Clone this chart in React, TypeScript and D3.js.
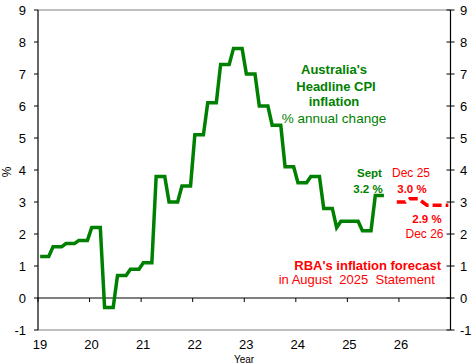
import React from "react";
import * as d3 from "d3";

const W = 476;
const H = 364;

// Monthly headline CPI (% annual change), Jan 2019 .. Sep 2025
const cpiStart = 2019;
const cpiValues: number[] = [
  1.3, 1.3, 1.3, 1.6, 1.6, 1.6, 1.7, 1.7, 1.7, 1.8, 1.8, 1.8,
  2.2, 2.2, 2.2, -0.3, -0.3, -0.3, 0.7, 0.7, 0.7, 0.9, 0.9, 0.9,
  1.1, 1.1, 1.1, 3.8, 3.8, 3.8, 3.0, 3.0, 3.0, 3.5, 3.5, 3.5,
  5.1, 5.1, 5.1, 6.1, 6.1, 6.1, 7.3, 7.3, 7.3, 7.8, 7.8, 7.8,
  7.0, 7.0, 7.0, 6.0, 6.0, 6.0, 5.4, 5.4, 5.4, 4.1, 4.1, 4.1,
  3.6, 3.6, 3.6, 3.8, 3.8, 3.8, 2.8, 2.8, 2.8, 2.2, 2.4, 2.4,
  2.4, 2.4, 2.4, 2.1, 2.1, 2.1, 3.2, 3.2, 3.2,
];

// RBA forecast (Aug 2025 SMP), monthly from Dec 2025 .. Dec 2026
const fcStartMonthIndex = 6 * 12 + 11; // months after Jan 2019
const fcValues: number[] = [3.0, 3.0, 3.0, 3.1, 3.1, 3.1, 3.0, 2.9, 2.9, 2.9, 2.9, 2.9, 2.9];

const yTicks = [-1, 0, 1, 2, 3, 4, 5, 6, 7, 8, 9];
const yearTicks = [2019, 2020, 2021, 2022, 2023, 2024, 2025, 2026];
const yearLabels = ["19", "20", "21", "22", "23", "24", "25", "26"];

const GREEN = "#008000";
const RED = "#ff0000";
const FONT = "'Liberation Sans', Arial, sans-serif";

export default function App() {
  const x = d3.scaleLinear().domain([2019, 2027]).range([38, 450.5]);
  const y = d3.scaleLinear().domain([-1, 9]).range([330, 10]);

  const monthX = (i: number) => cpiStart + (i + 0.5) / 12;

  const line = d3
    .line<number>()
    .x((_, i) => x(monthX(i)))
    .y((d) => y(d));

  const fcLine = d3
    .line<number>()
    .x((_, i) => x(monthX(fcStartMonthIndex + i)))
    .y((d) => y(d));

  const xL = x(2019);
  const xR = x(2027);
  const y0 = y(0);

  return (
    <svg
      width={W}
      height={H}
      style={{ position: "absolute", left: 0, top: 0, background: "#fff" }}
      fontFamily={FONT}
    >
      {/* frame */}
      <line x1={xL} x2={xR} y1={y(9)} y2={y(9)} stroke="#808080" strokeWidth={1} />
      <line x1={xL} x2={xR} y1={y(-1)} y2={y(-1)} stroke="#808080" strokeWidth={1} />
      <line x1={xL} x2={xL} y1={y(9)} y2={y(-1)} stroke="#000" strokeWidth={1.2} />
      <line x1={xR} x2={xR} y1={y(9)} y2={y(-1)} stroke="#000" strokeWidth={1.2} />
      {/* zero line */}
      <line x1={xL} x2={xR} y1={y0} y2={y0} stroke="#000" strokeWidth={1.2} />
      {yearTicks.map((t) => (
        <line key={"xt" + t} x1={x(t)} x2={x(t)} y1={y0} y2={y0 + 4} stroke="#000" strokeWidth={1} />
      ))}

      {/* axes ticks and labels */}
      {yTicks.map((t) => (
        <g key={"yl" + t}>
          <line x1={xL - 4} x2={xL} y1={y(t)} y2={y(t)} stroke="#000" strokeWidth={1} />
          <text x={26} y={y(t)} dy="0.35em" textAnchor="end" fontSize={13} fill="#000">
            {t}
          </text>
          <line x1={xR - 4} x2={xR + 4} y1={y(t)} y2={y(t)} stroke="#000" strokeWidth={1} />
          <text x={460} y={y(t)} dy="0.35em" textAnchor="start" fontSize={13} fill="#000">
            {t}
          </text>
        </g>
      ))}
      <text
        transform={`translate(11,172) rotate(-90)`}
        textAnchor="middle"
        fontSize={12}
        fill="#000"
      >
        %
      </text>

      {/* x labels */}
      {yearTicks.map((t, i) => (
        <text key={"xl" + t} x={x(t) + 2} y={349} textAnchor="middle" fontSize={13} fill="#000">
          {yearLabels[i]}
        </text>
      ))}
      <text x={244} y={362.5} textAnchor="middle" fontSize={10} fill="#000">
        Year
      </text>

      {/* series */}
      <path d={line(cpiValues) || ""} fill="none" stroke={GREEN} strokeWidth={3.5} strokeLinejoin="miter" />
      <path
        d={fcLine(fcValues) || ""}
        fill="none"
        stroke={RED}
        strokeWidth={3.5}
        strokeDasharray="9,4"
      />

      {/* annotations */}
      <g fill={GREEN} textAnchor="middle" fontSize={13}>
        <text x={334} y={74} fontWeight="bold">Australia's</text>
        <text x={336} y={90.5} fontWeight="bold">Headline CPI</text>
        <text x={334} y={106} fontWeight="bold">inflation</text>
        <text x={334} y={123} fontSize={13.5}>% annual change</text>
        <text x={369.5} y={176.5} fontWeight="bold" fontSize={11.5}>Sept</text>
        <text x={368} y={193} fontWeight="bold" fontSize={11.5}>3.2 %</text>
      </g>
      <g fill={RED} textAnchor="middle" fontSize={12}>
        <text x={411} y={176.5}>Dec 25</text>
        <text x={412} y={193} fontWeight="bold" fontSize={11.5}>3.0 %</text>
        <text x={427} y={223} fontWeight="bold" fontSize={11.5}>2.9 %</text>
        <text x={424.5} y={238}>Dec 26</text>
        <text x={367.7} y={270} fontWeight="bold" fontSize={13}>RBA's inflation forecast</text>
        <text x={356.7} y={284} fontSize={13} style={{ whiteSpace: "pre" }}>
          {"in August  2025  Statement"}
        </text>
      </g>
    </svg>
  );
}
